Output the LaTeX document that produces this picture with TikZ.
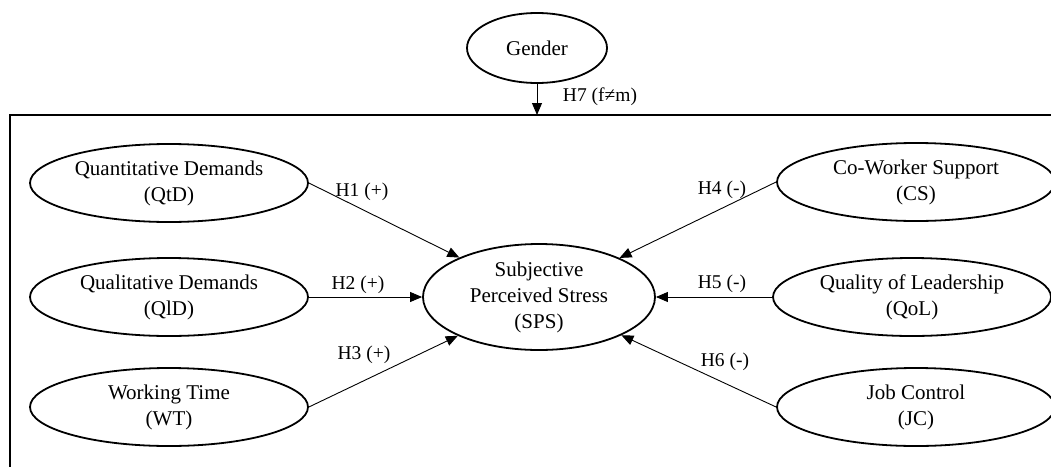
\documentclass[tikz,border=0pt]{standalone}
\usepackage{fontspec}
\setmainfont{Liberation Serif}
\usetikzlibrary{shapes.geometric,arrows.meta}
\tikzset{
  construct/.style={ellipse, draw, line width=1.8pt, inner sep=0pt,
    minimum width=278pt, minimum height=78pt, align=center,
    font=\fontsize{21}{26}\selectfont},
  path/.style={line width=0.9pt, -{Triangle[length=12pt,width=10pt]}},
  hlab/.style={font=\fontsize{19.5}{23}\selectfont, inner sep=0pt}
}
\begin{document}
\begin{tikzpicture}[x=1pt,y=-1pt]
\useasboundingbox (0,0) rectangle (1051,466);
\clip (0,0) rectangle (1051,466);
% frame
\draw[line width=1.8pt] (10,600) -- (10,115) -- (1200,115);
\coordinate (ftop) at (537,115);
% nodes
\node[construct, minimum width=140pt, minimum height=70pt] (G) at (537,48) {Gender};
\node[construct, minimum width=232pt, minimum height=106pt] (SPS) at (539,297) {Subjective\\Perceived Stress\\(SPS)};
\node[construct] (QtD) at (169,183) {Quantitative Demands\\(QtD)};
\node[construct] (QlD) at (169,297) {Qualitative Demands\\(QlD)};
\node[construct] (WT) at (169,407) {Working Time\\(WT)};
\node[construct] (CS) at (916,182) {Co-Worker Support\\(CS)};
\node[construct] (QoL) at (912,297) {Quality of Leadership\\(QoL)};
\node[construct] (JC) at (916,407) {Job Control\\(JC)};
% connectors
\draw[path] (G) -- (ftop);
\draw[path] (QtD.east) -- (SPS);
\draw[path] (QlD.east) -- (SPS.west);
\draw[path] (WT.east) -- (SPS);
\draw[path] (CS.west) -- (SPS);
\draw[path] (QoL.west) -- (SPS.east);
\draw[path] (JC.west) -- (SPS);
% labels
\node[hlab] (l7) at (600,97) {H7 (f≠m)};
\node[hlab] (l1) at (362,192) {H1 (+)};
\node[hlab] (l2) at (358,285) {H2 (+)};
\node[hlab] (l3) at (364,355) {H3 (+)};
\node[hlab] (l4) at (722,190) {H4 (-)};
\node[hlab] (l5) at (722,284) {H5 (-)};
\node[hlab] (l6) at (725,362) {H6 (-)};
\end{tikzpicture}
\end{document}
